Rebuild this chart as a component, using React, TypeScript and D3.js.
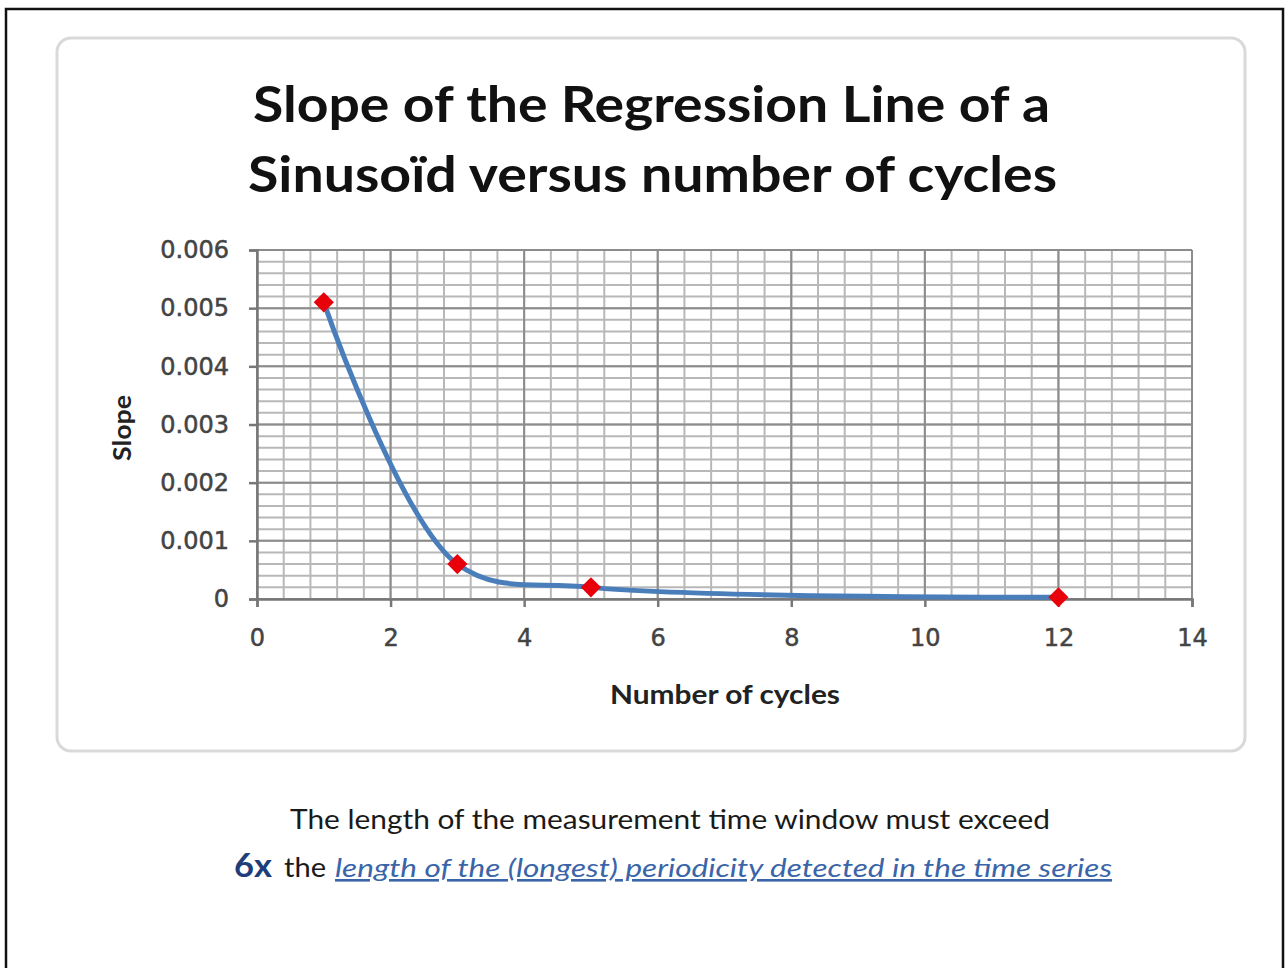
import React, { useEffect, useRef } from 'react';
import * as d3 from 'd3';

// values
const cycles = [1, 3, 5, 12];
const slopes = [0.0051, 0.0006, 0.0002, 0.00003];
const xTicks = [0, 2, 4, 6, 8, 10, 12, 14];
const yTicks = [0, 0.001, 0.002, 0.003, 0.004, 0.005, 0.006];
const titleLines = ['Slope of the Regression Line of a', 'Sinusoïd versus number of cycles'];

const FONT = 'Lato, "Open Sans", sans-serif';
const TICK_FONT = '"DejaVu Sans", Verdana, sans-serif';

const App = () => {
	const ref = useRef<SVGSVGElement>(null);

	useEffect(() => {
		const svg = d3.select(ref.current);
		svg.selectAll('*').remove();

		// outer slide frame
		svg.append('rect')
			.attr('x', 6).attr('y', 9).attr('width', 1277).attr('height', 980)
			.attr('fill', '#fff').attr('stroke', '#111').attr('stroke-width', 2.5);

		// chart area box
		svg.append('rect')
			.attr('x', 57).attr('y', 38).attr('width', 1188).attr('height', 713)
			.attr('rx', 14)
			.attr('fill', '#fff').attr('stroke', '#d9d9d9').attr('stroke-width', 3);

		// title
		svg.selectAll('.title')
			.data(titleLines)
			.enter()
			.append('text')
			.attr('class', 'title')
			.text(d => d)
			.attr('x', (d, i) => i === 0 ? 253 : 248)
			.attr('y', (d, i) => 122 + i * 70)
			.attr('textLength', (d, i) => i === 0 ? 797 : 809)
			.attr('lengthAdjust', 'spacingAndGlyphs')
			.style('font-family', FONT)
			.style('font-weight', 'bold')
			.style('font-size', '50px')
			.attr('fill', '#111');

		const xScale = d3.scaleLinear().domain([0, 14]).range([257, 1192]);
		const yScale = d3.scaleLinear().domain([0, 0.006]).range([599, 250]);

		// minor gridlines
		const xMinor = d3.range(0, 36).map(i => i * 0.4);
		const yMinor = d3.range(0, 31).map(i => i * 0.0002);
		const grid = svg.append('g');
		grid.selectAll('.vminor').data(xMinor).enter().append('line')
			.attr('x1', d => xScale(d)).attr('x2', d => xScale(d))
			.attr('y1', yScale(0)).attr('y2', yScale(0.006))
			.attr('stroke', '#b8b8b8').attr('stroke-width', 2);
		grid.selectAll('.hminor').data(yMinor).enter().append('line')
			.attr('x1', xScale(0)).attr('x2', xScale(14))
			.attr('y1', d => yScale(d)).attr('y2', d => yScale(d))
			.attr('stroke', '#b8b8b8').attr('stroke-width', 2);
		// major gridlines
		grid.selectAll('.vmajor').data(xTicks).enter().append('line')
			.attr('x1', d => xScale(d)).attr('x2', d => xScale(d))
			.attr('y1', yScale(0)).attr('y2', yScale(0.006))
			.attr('stroke', '#8c8c8c').attr('stroke-width', 2);
		grid.selectAll('.hmajor').data(yTicks).enter().append('line')
			.attr('x1', xScale(0)).attr('x2', xScale(14))
			.attr('y1', d => yScale(d)).attr('y2', d => yScale(d))
			.attr('stroke', '#8c8c8c').attr('stroke-width', 2);

		// axes
		const yAxis = d3.axisLeft(yScale).tickValues(yTicks)
			.tickFormat(d => (+d === 0 ? '0' : d3.format('.3f')(+d)))
			.tickSize(8).tickPadding(20);
		const xAxis = d3.axisBottom(xScale).tickValues(xTicks)
			.tickFormat(d3.format('d')).tickSize(8).tickPadding(22);

		const gy = svg.append('g').attr('transform', `translate(${xScale(0)},0)`).call(yAxis);
		const gx = svg.append('g').attr('transform', `translate(0,${yScale(0)})`).call(xAxis);
		[gx, gy].forEach(g => {
			g.select('.domain').attr('stroke', '#777').attr('stroke-width', 2.5);
			g.selectAll('.tick line').attr('stroke', '#777').attr('stroke-width', 2.5);
			g.selectAll('.tick text')
				.style('font-family', TICK_FONT)
				.style('font-size', '24px')
				.attr('fill', '#444')
				.attr('stroke', '#444')
				.attr('stroke-width', 0.5);
		});

		// axis titles
		svg.append('text')
			.text('Slope')
			.attr('transform', 'translate(131,428) rotate(-90)')
			.attr('text-anchor', 'middle')
			.attr('textLength', 66)
			.attr('lengthAdjust', 'spacingAndGlyphs')
			.style('font-family', FONT)
			.style('font-weight', 'bold')
			.style('font-size', '25px')
			.attr('fill', '#222');

		svg.append('text')
			.text('Number of cycles')
			.attr('x', 725).attr('y', 704)
			.attr('text-anchor', 'middle')
			.attr('textLength', 230)
			.attr('lengthAdjust', 'spacingAndGlyphs')
			.style('font-family', FONT)
			.style('font-weight', 'bold')
			.style('font-size', '27px')
			.attr('fill', '#222');

		// smoothed series line
		const pts = cycles.map((c, i) => [xScale(c), yScale(slopes[i])] as [number, number]);
		const line = d3.line().curve(d3.curveCatmullRom.alpha(0.5));
		svg.append('path')
			.attr('d', line(pts))
			.attr('fill', 'none')
			.attr('stroke', '#4a7ebb')
			.attr('stroke-width', 5)
			.attr('stroke-linecap', 'round');

		// diamond markers
		svg.selectAll('.dot')
			.data(cycles)
			.enter()
			.append('path')
			.attr('class', 'dot')
			.attr('d', d3.symbol(d3.symbolDiamond2, 260)())
			.attr('transform', (d, i) => `translate(${xScale(d)},${yScale(slopes[i])})`)
			.attr('fill', '#e8000b');

		// caption under the chart
		svg.append('text')
			.text('The length of the measurement time window must exceed')
			.attr('x', 670).attr('y', 829)
			.attr('text-anchor', 'middle')
			.attr('textLength', 760)
			.attr('lengthAdjust', 'spacingAndGlyphs')
			.style('font-family', FONT)
			.style('font-size', '26px')
			.attr('fill', '#1a1a1a');

		svg.append('text')
			.text('6x')
			.attr('x', 234).attr('y', 877)
			.attr('textLength', 38)
			.attr('lengthAdjust', 'spacingAndGlyphs')
			.style('font-family', FONT)
			.style('font-weight', 'bold')
			.style('font-size', '32px')
			.attr('fill', '#1f3d7a');
		svg.append('text')
			.text('the')
			.attr('x', 284).attr('y', 877)
			.attr('textLength', 42)
			.attr('lengthAdjust', 'spacingAndGlyphs')
			.style('font-family', FONT)
			.style('font-size', '26px')
			.attr('fill', '#1a1a1a');
		svg.append('text')
			.text('length of the (longest) periodicity detected in the time series')
			.attr('x', 335).attr('y', 877)
			.attr('textLength', 777)
			.attr('lengthAdjust', 'spacingAndGlyphs')
			.style('font-family', FONT)
			.style('font-style', 'italic')
			.style('font-size', '26px')
			.style('text-decoration', 'underline')
			.attr('fill', '#3a65a8');
	}, []);

	return (
		<svg ref={ref} width={1287} height={968}
			style={{ position: 'absolute', left: 0, top: 0, background: '#fff' }} />
	);
};

export default App;
